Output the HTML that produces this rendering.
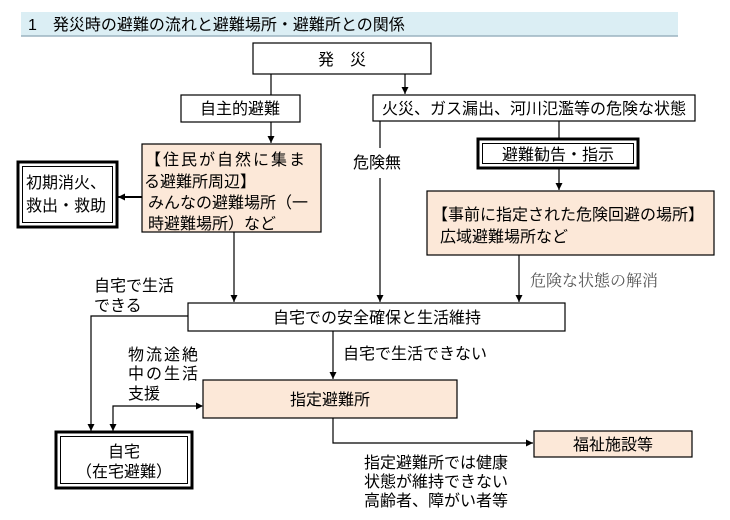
<!DOCTYPE html>
<html><head><meta charset="utf-8"><style>
body{margin:0;background:#fff;width:730px;height:515px;overflow:hidden}
svg text{font-family:"Liberation Sans","Noto Sans CJK JP",sans-serif;font-size:16px;fill:#000}
</style></head><body>
<svg width="730" height="515" viewBox="0 0 730 515" xmlns="http://www.w3.org/2000/svg">
<defs><marker id="a" markerWidth="8" markerHeight="8" refX="7" refY="4" orient="auto" markerUnits="userSpaceOnUse"><path d="M0,0.5 L7,4 L0,7.5z" fill="#000"/></marker>
<marker id="s" markerWidth="8" markerHeight="8" refX="1" refY="4" orient="auto" markerUnits="userSpaceOnUse"><path d="M7,0.5 L0,4 L7,7.5z" fill="#000"/></marker></defs>
<rect x="21" y="12" width="657" height="24" fill="#dbeef4"/>
<line x1="21" y1="36" x2="678" y2="36" stroke="#9bb3c0" stroke-width="1.5"/>
<text x="28" y="30" font-size="16">1　発災時の避難の流れと避難場所・避難所との関係</text>
<g stroke="#000" stroke-width="1.2" fill="none">
<rect x="253" y="43" width="178" height="31" fill="#fff"/>
<rect x="181" y="95" width="119" height="27" fill="#fff"/>
<rect x="373" y="95" width="322" height="26" fill="#fff"/>
<rect x="142" y="144" width="179" height="88" fill="#fce8d8"/>
<rect x="427" y="191" width="287" height="64" fill="#fce8d8"/>
<rect x="188" y="303" width="377" height="28" fill="#fff"/>
<rect x="203" y="380" width="254" height="38" fill="#fce8d8"/>
<rect x="534" y="431" width="158" height="26" fill="#fce8d8"/>
<rect x="18" y="162" width="99" height="65" stroke-width="3" fill="#fff"/>
<rect x="22.5" y="166.5" width="90" height="56" stroke-width="1"/>
<rect x="478" y="139" width="160" height="29" stroke-width="3" fill="#fff"/>
<rect x="482.5" y="143.5" width="151" height="20" stroke-width="1"/>
<rect x="56" y="432" width="136" height="56" stroke-width="3" fill="#fff"/>
<rect x="60.5" y="436.5" width="127" height="47" stroke-width="1"/>
<line x1="271" y1="74" x2="271" y2="95"/>
<line x1="405" y1="74" x2="405" y2="94" marker-end="url(#a)"/>
<line x1="271" y1="122" x2="271" y2="143" marker-end="url(#a)"/>
<line x1="142" y1="197" x2="118" y2="197" stroke-width="2" marker-end="url(#a)"/>
<line x1="380" y1="121" x2="380" y2="148"/>
<line x1="380" y1="178" x2="380" y2="302" marker-end="url(#a)"/>
<line x1="559" y1="121" x2="559" y2="139"/>
<line x1="559" y1="168" x2="559" y2="190" marker-end="url(#a)"/>
<line x1="234" y1="232" x2="234" y2="302" marker-end="url(#a)"/>
<line x1="519" y1="255" x2="519" y2="302" marker-end="url(#a)"/>
<polyline points="188,316 91,316 91,431" marker-end="url(#a)"/>
<line x1="333" y1="331" x2="333" y2="379" marker-end="url(#a)"/>
<polyline points="202,406 113,406 113,431" marker-start="url(#s)" marker-end="url(#a)"/>
<polyline points="333,418 333,443 533,443" marker-end="url(#a)"/>
</g>
<text x="342" y="65" text-anchor="middle">発　災</text>
<text x="240" y="114" text-anchor="middle">自主的避難</text>
<text x="534" y="114" text-anchor="middle">火災、ガス漏出、河川氾濫等の危険な状態</text>
<text x="145" y="165" letter-spacing="2">【住民が自然に集ま</text>
<text x="144" y="187">る避難所周辺】</text>
<text x="148" y="208">みんなの避難場所（一</text>
<text x="148" y="229">時避難場所）など</text>
<text x="26" y="188">初期消火、</text>
<text x="26" y="211">救出・救助</text>
<text x="353" y="168">危険無</text>
<text x="558" y="160" text-anchor="middle">避難勧告・指示</text>
<text x="432" y="220">【事前に指定された危険回避の場所】</text>
<text x="440" y="242">広域避難場所など</text>
<text x="530" y="286" style="font-family:'Liberation Serif','Noto Serif CJK JP',serif;fill:#555">危険な状態の解消</text>
<text x="94" y="291">自宅で生活</text>
<text x="94" y="311">できる</text>
<text x="377" y="323" text-anchor="middle">自宅での安全確保と生活維持</text>
<text x="343" y="359">自宅で生活できない</text>
<text x="128" y="360" letter-spacing="2">物流途絶</text>
<text x="128" y="379" letter-spacing="2">中の生活</text>
<text x="128" y="399">支援</text>
<text x="330" y="405" text-anchor="middle">指定避難所</text>
<text x="124" y="457" text-anchor="middle">自宅</text>
<text x="124" y="477" text-anchor="middle">（在宅避難）</text>
<text x="613" y="450" text-anchor="middle">福祉施設等</text>
<text x="364" y="468">指定避難所では健康</text>
<text x="364" y="487">状態が維持できない</text>
<text x="364" y="506">高齢者、障がい者等</text>
</svg>
</body></html>
